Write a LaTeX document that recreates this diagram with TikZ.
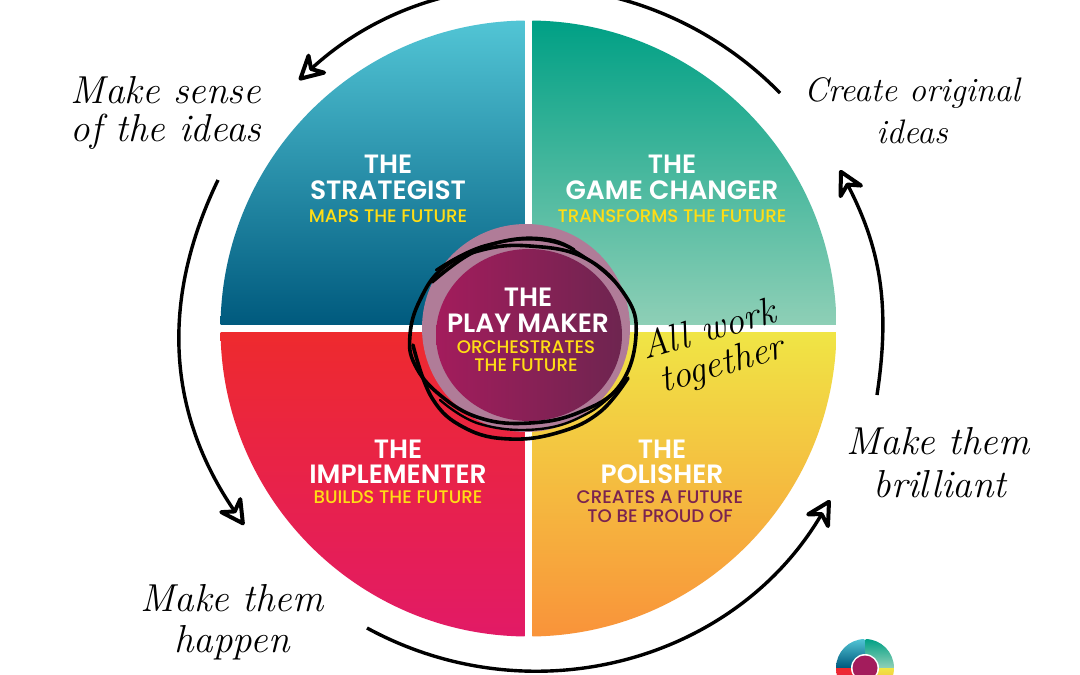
\documentclass[tikz,border=0pt]{standalone}
\usepackage{fontspec}
\usetikzlibrary{arrows.meta}
\newfontfamily\lab[BoldFont={Poppins SemiBold}]{Poppins Medium}
\definecolor{sA}{HTML}{52C5D5}\definecolor{sB}{HTML}{005A7E}
\definecolor{gA}{HTML}{00A085}\definecolor{gB}{HTML}{8ECFB6}
\definecolor{iA}{HTML}{EE2A2E}\definecolor{iB}{HTML}{E21A66}
\definecolor{pA}{HTML}{F0E545}\definecolor{pB}{HTML}{F9933A}
\definecolor{cA}{HTML}{A31C5C}\definecolor{cB}{HTML}{6E2550}
\definecolor{halo}{HTML}{B07C98}
\definecolor{yel}{HTML}{FFDD15}
\definecolor{plum}{HTML}{7A2350}
\tikzset{
  head/.style={font=\lab\bfseries\fontsize{26.5}{26.5}\selectfont,text=white,inner sep=0pt},
  sub/.style={font=\lab\fontsize{18.2}{18.2}\selectfont,text=yel,inner sep=0pt},
  script/.style={font=\itshape\fontsize{39}{39}\selectfont,text=black,inner sep=0pt},
  tilted/.style={script,rotate=16,font=\itshape\fontsize{38}{38}\selectfont},
  loopline/.style={-{Stealth[open,round,length=31pt,width=33pt,inset=10pt,line width=4pt]},line width=3.4pt,black},
  scrib/.style={line width=3.6pt,black,line cap=round,line join=round},
  scribthin/.style={scrib,line width=2.4pt}
}
\newcommand{\quartet}[4]{% cx cy r gap
  \begin{scope}\clip (#1,#2) circle (#3);
    \shade[top color=sA,bottom color=sB] (#1-#3,#2-#3) rectangle (#1-#4,#2-#4);
    \shade[top color=gA,bottom color=gB] (#1+#4,#2-#3) rectangle (#1+#3,#2-#4);
    \shade[top color=iA,bottom color=iB] (#1-#3,#2+#4) rectangle (#1-#4,#2+#3);
    \shade[top color=pA,bottom color=pB] (#1+#4,#2+#4) rectangle (#1+#3,#2+#3);
  \end{scope}}
\begin{document}
\begin{tikzpicture}[x=1pt,y=-1pt]
\useasboundingbox (0,0) rectangle (1080,675);
\clip (0,0) rectangle (1080,675);
\fill[white] (0,0) rectangle (1080,675);
\quartet{528.5}{328.5}{308}{3.8}
\fill[halo] (526,328) circle (104);
\shade[left color=cA,right color=cB] (529,335) ellipse (93 and 86);
% scribble
\draw[scrib] plot[smooth cycle,tension=.7] coordinates {(443,268)(482,250)(530,246)(585,258)(625,295)(636,335)(620,385)(580,412)(530,423)(480,418)(440,395)(415,365)(410,335)(420,300)};
\draw[scrib] plot[smooth,tension=.7] coordinates {(432,282)(470,254)(510,240)(550,240)(574,250)};
\draw[scrib] plot[smooth,tension=.7] coordinates {(413,345)(432,398)(465,428)(510,439)(560,432)(600,412)(628,378)};
\draw[scribthin] plot[smooth,tension=.7] coordinates {(436,270)(490,244)(560,244)(615,282)};
\draw[scribthin] plot[smooth,tension=.7] coordinates {(440,400)(480,424)(540,429)(590,412)(622,384)};
% labels
\node[head] (t1) at (388,164) {THE};
\node[head] (t2) at (388,190) {STRATEGIST};
\node[sub] (t3) at (388,216) {MAPS THE FUTURE};
\node[head] (g1) at (672,164) {THE};
\node[head] (g2) at (672,190) {GAME CHANGER};
\node[sub] (g3) at (672,216) {TRANSFORMS THE FUTURE};
\node[head] (i1) at (398,449) {THE};
\node[head] (i2) at (398,474) {IMPLEMENTER};
\node[sub] (i3) at (398,497) {BUILDS THE FUTURE};
\node[head] (p1) at (662,449) {THE};
\node[head] (p2) at (662,474) {POLISHER};
\node[sub,text=plum] (p3) at (660,497) {CREATES A FUTURE};
\node[sub,text=plum] (p4) at (660,516) {TO BE PROUD OF};
\node[head] (c1) at (528,297) {THE};
\node[head] (c2) at (528,323) {PLAY MAKER};
\node[sub] (c3) at (526,347) {ORCHESTRATES};
\node[sub] (c4) at (526,365) {THE FUTURE};
% handwriting
\node[script] (h1) at (166,90) {Make sense};
\node[script] (h2) at (166,132) {of the ideas};
\node[script,font=\itshape\fontsize{34}{34}\selectfont] (h3) at (912,93) {Create original};
\node[script,font=\itshape\fontsize{34}{34}\selectfont] (h4) at (912,132) {ideas};
\node[script] (h5) at (938,441) {Make them};
\node[script] (h6) at (940,484) {brilliant};
\node[script] (h7) at (232,598) {Make them};
\node[script] (h8) at (232,643) {happen};
\node[tilted] (h9) at (708,328) {All work};
\node[tilted] (h10) at (722,366) {together};
% cycle arrows
\coordinate (a1) at (780,93); \coordinate (b1) at (299,80);
\coordinate (a2) at (218,180); \coordinate (b2) at (244,525);
\coordinate (a3) at (367,628); \coordinate (b3) at (830,500);
\coordinate (a4) at (877,395); \coordinate (b4) at (840,170);
\draw[loopline] (a1) to[bend right=44] (b1);
\draw[loopline] (a2) to[bend right=30] (b2);
\draw[loopline] (a3) to[bend right=44] (b3);
\draw[loopline] (a4) to[bend right=18] (b4);
% small emblem
\quartet{865}{668}{29}{0.7}
\fill[white] (865,668) circle (14);
\fill[cA] (865,668) circle (12.5);
\end{tikzpicture}
\end{document}
